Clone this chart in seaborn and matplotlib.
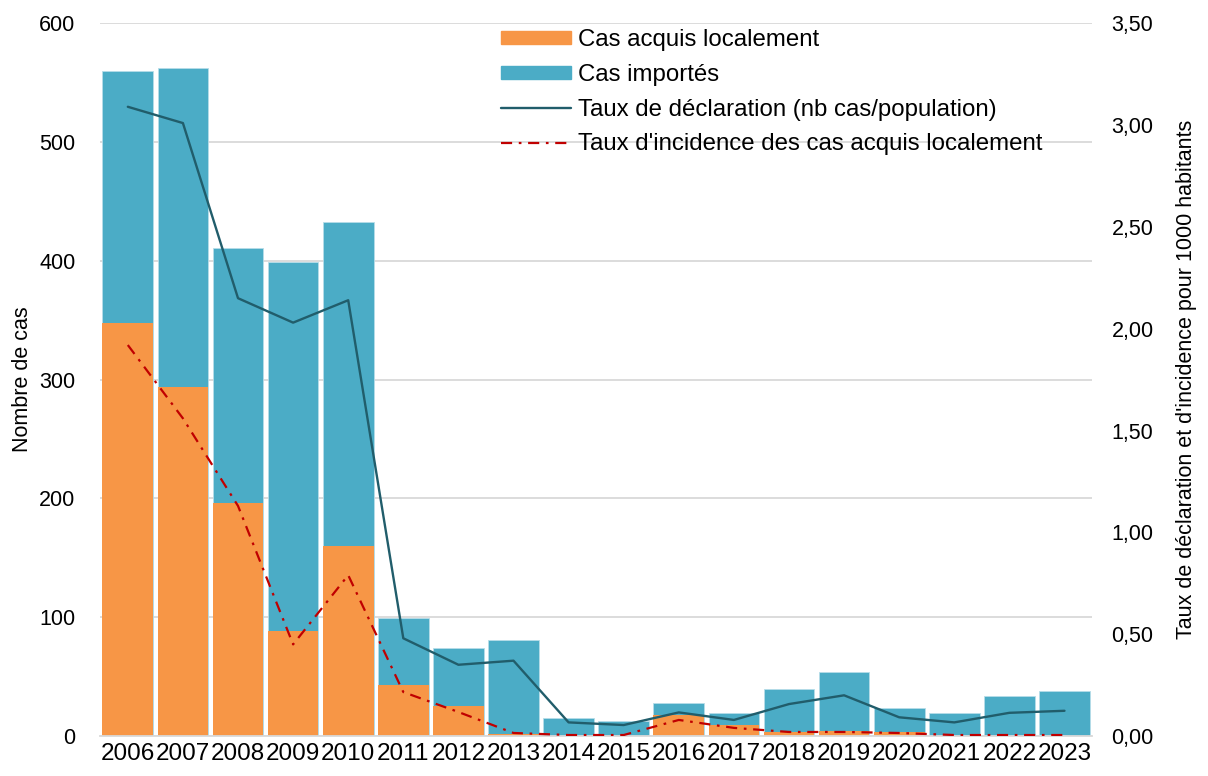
import numpy as np
import pandas as pd
import matplotlib
matplotlib.use("Agg")
import matplotlib.pyplot as plt
import seaborn as sns
from matplotlib.patches import Patch
from matplotlib.lines import Line2D
from matplotlib.ticker import FuncFormatter

# données
years = [str(y) for y in range(2006, 2024)]
cas_locaux = [348, 294, 196, 88, 160, 43, 25, 2, 0, 0, 18, 9, 3, 4, 3, 0, 0, 0]
cas_totaux = [560, 562, 411, 399, 433, 99, 74, 81, 15, 13, 28, 19, 40, 54, 24, 19, 34, 38]
taux_declaration = [3.09, 3.01, 2.15, 2.03, 2.14, 0.48, 0.35, 0.37, 0.067, 0.054,
                    0.116, 0.079, 0.157, 0.20, 0.092, 0.067, 0.114, 0.124]
taux_incidence = [1.92, 1.56, 1.13, 0.45, 0.79, 0.216, 0.118, 0.015, 0.005, 0.005,
                  0.079, 0.04, 0.02, 0.02, 0.015, 0.005, 0.005, 0.005]

orange = "#F79646"
bleu = "#4BACC6"
teal = "#215D6B"
rouge = "#C00000"

sns.set_style("white")
plt.rcParams['font.family'] = ['Liberation Sans', 'DejaVu Sans']
plt.rcParams['text.color'] = 'black'
plt.rcParams['axes.labelcolor'] = 'black'
plt.rcParams['xtick.color'] = 'black'
plt.rcParams['ytick.color'] = 'black'

df = pd.DataFrame({"annee": years, "local": cas_locaux, "total": cas_totaux,
                   "decl": taux_declaration, "inc": taux_incidence})
df["pos"] = np.arange(len(df))

fig = plt.figure(figsize=(12.08, 7.76), dpi=100)
ax = fig.add_axes([0.083, 0.0515, 0.821, 0.9185])

# barres empilées : total (importés) puis locaux par-dessus
sns.barplot(data=df, x="annee", y="total", color=bleu, width=0.92, saturation=1,
            edgecolor="#B7DDE8", linewidth=0.6, ax=ax)
sns.barplot(data=df, x="annee", y="local", color=orange, width=0.92, saturation=1,
            linewidth=0, ax=ax)

ax.set_ylim(0, 600)
ax.set_xlim(-0.5, len(years) - 0.5)
ax.set_yticks(range(0, 601, 100))
ax.yaxis.grid(True, color="#D9D9D9", linewidth=1.3)
ax.set_axisbelow(True)
ax.set_xlabel("")
ax.set_ylabel("Nombre de cas", fontsize=15.5)
ax.tick_params(axis="x", labelsize=17.5, length=0, pad=5)
ax.tick_params(axis="y", labelsize=15.5, length=0, pad=18)
for s in ["top", "right", "left"]:
    ax.spines[s].set_visible(False)
ax.spines["bottom"].set_color("#D9D9D9")
ax.spines["bottom"].set_linewidth(1.3)

ax2 = ax.twinx()
sns.lineplot(data=df, x="pos", y="decl", color=teal, linewidth=1.7, ax=ax2)
sns.lineplot(data=df, x="pos", y="inc", color=rouge, linewidth=1.6, ax=ax2)
ax2.lines[1].set_dashes([5, 3, 1.2, 3])
ax2.set_ylim(0, 3.5)
ax2.set_yticks(np.arange(0, 3.51, 0.5))
ax2.yaxis.set_major_formatter(FuncFormatter(lambda v, p: f"{v:.2f}".replace(".", ",")))
ax2.tick_params(axis="y", labelsize=15.5, length=0, pad=14)
ax2.set_ylabel("Taux de déclaration et d'incidence pour 1000 habitants", fontsize=15.5, labelpad=16)
ax2.set_xlabel("")
for s in ["top", "right", "left", "bottom"]:
    ax2.spines[s].set_visible(False)
ax2.grid(False)
ax2.set_xlim(-0.5, len(years) - 0.5)

handles = [
    Patch(color=orange, label="Cas acquis localement"),
    Patch(color=bleu, label="Cas importés"),
    Line2D([], [], color=teal, linewidth=1.7, label="Taux de déclaration (nb cas/population)"),
    Line2D([], [], color=rouge, linewidth=1.6, dashes=[5, 3, 1.2, 3],
           label="Taux d'incidence des cas acquis localement"),
]
ax2.legend(handles=handles, loc="upper left", bbox_to_anchor=(0.39, 1.012), frameon=False,
           fontsize=17.3, handlelength=2.9, handleheight=0.5, handletextpad=0.3,
           labelspacing=0.53, borderaxespad=0.2)

fig.savefig("out.png", dpi=100)
